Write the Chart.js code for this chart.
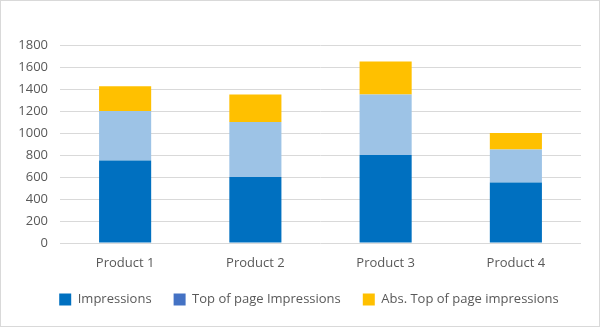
<!DOCTYPE html>
<html>
<head>
<meta charset="utf-8">
<script src="https://cdn.jsdelivr.net/npm/chart.js@4/dist/chart.umd.min.js"></script>
<style>
  html, body { margin: 0; padding: 0; background: #fff; }
  #wrap { width: 600px; height: 327px; box-sizing: border-box; border: 1px solid #d9d9d9; }
</style>
</head>
<body>
<div id="wrap"><canvas id="chartImpr"></canvas></div>
<script>
// chart data
var categories = ['Product 1', 'Product 2', 'Product 3', 'Product 4'];
var impressions = [750, 600, 800, 550];
var topOfPage = [450, 500, 550, 300];
var absTopOfPage = [225, 250, 300, 150];
var yTicks = [0, 200, 400, 600, 800, 1000, 1200, 1400, 1600, 1800];

// legend swatch colours differ from the bar colours in the original
var legendColors = ['#0070C0', '#4472C4', '#FFC000'];

var ctx = document.getElementById('chartImpr');

// nudge the legend to the right, the original's legend is not centred on the canvas
var legendShift = {
  id: 'legendShift',
  afterLayout: function(chart) {
    if (!chart.legend) return;
    chart.legend.left += 18;
    chart.legend.right += 18;
  }
};

new Chart(ctx, {
  type: 'bar',
  data: {
    labels: categories,
    datasets: [
      { label: 'Impressions', data: impressions, backgroundColor: '#0070C0' },
      { label: 'Top of page Impressions', data: topOfPage, backgroundColor: '#9DC3E6' },
      { label: 'Abs. Top of page impressions', data: absTopOfPage, backgroundColor: '#FFC000' }
    ]
  },
  options: {
    responsive: true,
    maintainAspectRatio: false,
    animation: false,
    datasets: {
      bar: { categoryPercentage: 0.4, barPercentage: 1.0 }
    },
    layout: { padding: { top: 44, right: 18, left: 0, bottom: 10 } },
    scales: {
      x: {
        stacked: true,
        grid: { display: false, drawTicks: false },
        border: { display: false },
        ticks: { color: '#595959', font: { family: 'Open Sans', size: 13 }, padding: 12 },
        afterFit: function(scale) { scale.height = 28; }
      },
      y: {
        stacked: true,
        min: 0,
        max: 1800,
        afterBuildTicks: function(scale) {
          scale.ticks = yTicks.map(function(v) { return { value: v }; });
        },
        grid: { color: '#d9d9d9', lineWidth: 1, drawTicks: false },
        border: { display: false },
        ticks: {
          color: '#595959',
          font: { family: 'Open Sans', size: 13 },
          padding: 12,
          callback: function(value) { return String(value); }
        },
        afterFit: function(scale) { scale.width = 59; }
      }
    },
    plugins: {
      tooltip: { enabled: false },
      legend: {
        position: 'bottom',
        labels: {
          boxWidth: 12,
          boxHeight: 12,
          padding: 22,
          color: '#595959',
          font: { family: 'Open Sans', size: 13 },
          generateLabels: function(chart) {
            var items = Chart.defaults.plugins.legend.labels.generateLabels(chart);
            items.forEach(function(item, i) {
              item.fillStyle = legendColors[i];
              item.strokeStyle = legendColors[i];
              item.lineWidth = 0;
            });
            return items;
          }
        }
      }
    }
  },
  plugins: [legendShift]
});
</script>
</body>
</html>
